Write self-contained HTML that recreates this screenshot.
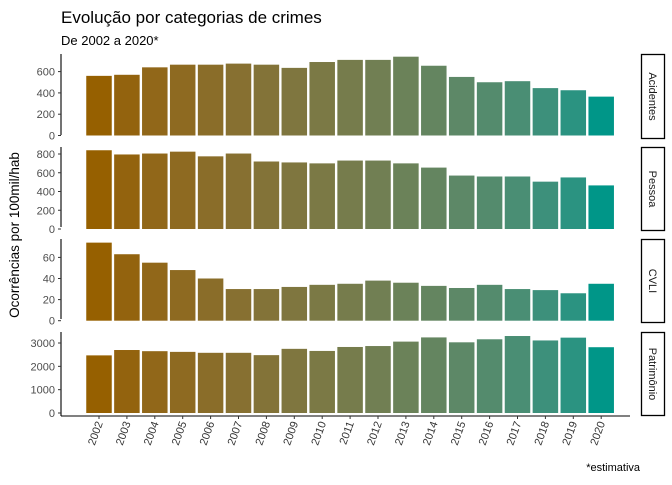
<!DOCTYPE html>
<html><head><meta charset="utf-8"><style>
body{margin:0;background:#fff;}
svg text{font-family:"Liberation Sans",sans-serif;}
</style></head><body>
<svg id="chart" width="672" height="480" xmlns="http://www.w3.org/2000/svg">
<text x="61" y="23" font-size="17" fill="#000">Evolução por categorias de crimes</text>
<text x="61" y="45" font-size="13" fill="#000">De 2002 a 2020*</text>
<text transform="translate(19,235) rotate(-90)" text-anchor="middle" font-size="13.5" fill="#000">Ocorrências por 100mil/hab</text>
<text x="640" y="471" text-anchor="end" font-size="11" fill="#000">*estimativa</text>
<g id="plot"></g>
</svg>
<script>
const years = ['2002','2003','2004','2005','2006','2007','2008','2009','2010','2011','2012','2013','2014','2015','2016','2017','2018','2019','2020'];
const panelNames = ['Acidentes','Pessoa','CVLI','Patrimônio'];
const acidentes = [560,570,640,665,665,675,665,635,690,710,710,740,655,550,500,510,445,425,365];
const pessoa = [840,795,805,825,775,805,720,710,700,730,730,700,655,570,560,560,505,550,465];
const cvli = [74,63,55,48,40,30,30,32,34,35,38,36,33,31,34,30,29,26,35];
const patrimonio = [2470,2700,2650,2620,2580,2580,2480,2750,2660,2830,2870,3060,3240,3030,3160,3300,3110,3230,2820];
const ticksAcid = [0,200,400,600];
const ticksPess = [0,200,400,600,800];
const ticksCvli = [0,20,40,60];
const ticksPatr = [0,1000,2000,3000];

const NS='http://www.w3.org/2000/svg';
const g=document.getElementById('plot');
function mk(t,a){const e=document.createElementNS(NS,t);for(const k in a)e.setAttribute(k,a[k]);g.appendChild(e);return e;}
const panels=[
 {name:panelNames[0],vals:acidentes,ticks:ticksAcid,top:54,bot:139,y0:135.5,ppu:21.3/200},
 {name:panelNames[1],vals:pessoa,ticks:ticksPess,top:147,bot:231,y0:229,ppu:18.75/200},
 {name:panelNames[2],vals:cvli,ticks:ticksCvli,top:239,bot:323,y0:320.7,ppu:21.1/20},
 {name:panelNames[3],vals:patrimonio,ticks:ticksPatr,top:332,bot:416,y0:413,ppu:23.33/1000}
];
const x0=99, step=27.9, bw=25.5, axX=61;
function xc(i){return x0+i*step;}
// Lab interpolation
function s2l(c){c/=255;return c<=0.04045?c/12.92:Math.pow((c+0.055)/1.055,2.4);}
function l2s(c){c=c<=0.0031308?12.92*c:1.055*Math.pow(c,1/2.4)-0.055;return Math.max(0,Math.min(255,Math.round(c*255)));}
function toLab(rgb){const [r,g2,b]=rgb.map(s2l);
 let X=(0.4124*r+0.3576*g2+0.1805*b)/0.95047,Y=0.2126*r+0.7152*g2+0.0722*b,Z=(0.0193*r+0.1192*g2+0.9505*b)/1.08883;
 const f=t=>t>0.008856?Math.cbrt(t):7.787*t+16/116;
 return [116*f(Y)-16,500*(f(X)-f(Y)),200*(f(Y)-f(Z))];}
function fromLab([L,a,b]){const fy=(L+16)/116,fx=fy+a/500,fz=fy-b/200;
 const fi=t=>t*t*t>0.008856?t*t*t:(t-16/116)/7.787;
 const X=fi(fx)*0.95047,Y=fi(fy),Z=fi(fz)*1.08883;
 const r=3.2406*X-1.5372*Y-0.4986*Z,g2=-0.9689*X+1.8758*Y+0.0415*Z,bb=0.0557*X-0.2040*Y+1.0570*Z;
 return [l2s(r),l2s(g2),l2s(bb)];}
const L1=toLab([150,96,0]),L2=toLab([0,150,136]);
function col(i){const t=i/(years.length-1);return 'rgb('+fromLab(L1.map((v,k)=>v+(L2[k]-v)*t)).join(',')+')';}
panels.forEach((p,pi)=>{
  const ys=v=>p.y0-v*p.ppu;
  p.vals.forEach((v,i)=>{
    const r=mk('rect',{x:xc(i)-bw/2,y:ys(v),width:bw,height:v*p.ppu,fill:col(i)});
    
    
  });
  const ax=mk('line',{x1:axX,x2:axX,y1:p.top,y2:p.bot-(pi==3?0:4),stroke:'#000','stroke-width':1.1});
  
  
  p.ticks.forEach(t=>{
    mk('line',{x1:axX-3,x2:axX,y1:ys(t),y2:ys(t),stroke:'#333'});
    const tx=mk('text',{x:axX-6,y:ys(t)+4,'text-anchor':'end','font-size':11,fill:'#4d4d4d'});
    tx.textContent=t;
    
    
  });
  const s=mk('rect',{x:641.5,y:p.top+0.5,width:23,height:p.bot-p.top-1,fill:'#fff',stroke:'#000','stroke-width':1.3});
  
  
  const st=mk('text',{transform:'translate(649,'+((p.top+p.bot)/2)+') rotate(90)','text-anchor':'middle','font-size':11,fill:'#1a1a1a'});
  st.textContent=p.name;
  
  
});
const xa=mk('line',{x1:axX,x2:630,y1:416,y2:416,stroke:'#000','stroke-width':1.1});


years.forEach((y,i)=>{
  mk('line',{x1:xc(i),x2:xc(i),y1:416,y2:419,stroke:'#333'});
  const t=mk('text',{transform:'translate('+(xc(i)+4)+',423) rotate(-70)','text-anchor':'end','font-size':11,fill:'#333'});
  t.textContent=y;
  
  
});
</script>
</body></html>
